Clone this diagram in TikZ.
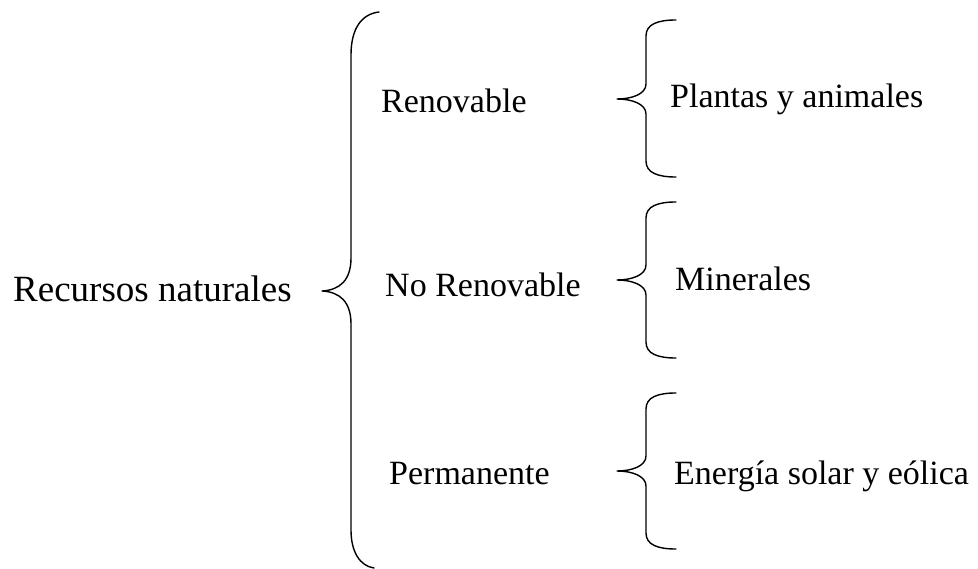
\documentclass[tikz,border=0pt]{standalone}
\usepackage{fontspec}
\setmainfont{Liberation Serif}
\newcommand{\smallbr}[4]{% x-vertical, top, tip, bottom
  \draw[brace] (#1+30,#2) .. controls (#1+12,#2) and (#1,#2+4) .. (#1,#2+16)
    -- (#1,#3-15) .. controls (#1,#3-5) and (#1-14,#3) .. (#1-29,#3)
    .. controls (#1-14,#3) and (#1,#3+5) .. (#1,#3+15)
    -- (#1,#4-16) .. controls (#1,#4-4) and (#1+12,#4) .. (#1+30,#4);}
\begin{document}
\begin{tikzpicture}[x=1pt,y=-1pt,
  brace/.style={line width=1.4pt, line cap=round, line join=round},
  lbl/.style={anchor=base west, inner sep=0pt, font=\fontsize{34}{40}\selectfont},
  big/.style={anchor=base west, inner sep=0pt, font=\fontsize{37}{44}\selectfont}]
\useasboundingbox (0,0) rectangle (978,569);
\node[big] (rn) at (13,302) {Recursos naturales};
\node[lbl] (ren) at (381,113) {Renovable};
\node[lbl] (nren) at (385,297) {No Renovable};
\node[lbl] (perm) at (389,484) {Permanente};
\node[lbl] (pla) at (670,108) {Plantas y animales};
\node[lbl] (min) at (675,291) {Minerales};
\node[lbl] (ene) at (674,484) {Energía solar y eólica};
% big brace
\draw[brace] (379,12) .. controls (362,14) and (351,28) .. (351,55)
  -- (351,258) .. controls (351,280) and (340,290) .. (322,291)
  .. controls (340,292) and (351,302) .. (351,324)
  -- (351,530) .. controls (351,552) and (360,566) .. (374,568);
\smallbr{646}{20}{99}{177}
\smallbr{646}{202}{280}{358}
\smallbr{646}{393}{471}{549}
\end{tikzpicture}
\end{document}
